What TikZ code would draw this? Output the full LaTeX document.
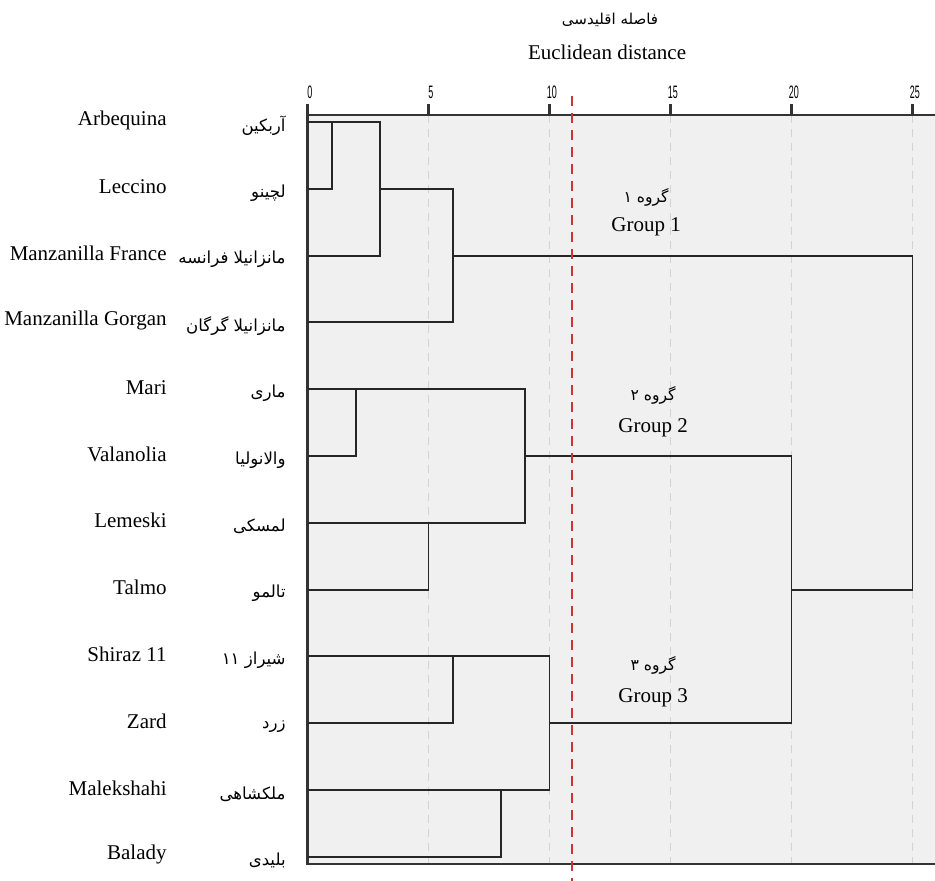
\documentclass[tikz,border=0pt]{standalone}
\usepackage{fontspec}
\setmainfont{Liberation Serif}
\newfontfamily\farsifont[Script=Arabic]{DejaVu Sans}
\newfontfamily\axisfont{Liberation Sans}
\TeXXeTstate=1
\usepackage{tikz}
\newcommand{\fa}[1]{{\farsifont\beginR #1\endR}}
\definecolor{cutred}{RGB}{205,52,52}
\tikzset{
  enlabel/.style={anchor=east, inner sep=0pt, font=\fontsize{10.5}{12}\selectfont},
  falabel/.style={anchor=east, inner sep=0pt, font=\fontsize{8.3}{10}\selectfont},
  grouplabel/.style={inner sep=0pt, font=\fontsize{10.5}{12}\selectfont},
  ticklabel/.style={inner sep=0pt, font=\axisfont\fontsize{9}{10}\selectfont},
  tree/.style={color=black!85, line width=0.95pt},
  axisline/.style={color=black!80, line width=1.2pt},
  gridline/.style={color=gray!35, line width=0.5pt, dash pattern=on 4pt off 3pt},
  cutline/.style={color=cutred, line width=1.4pt, dash pattern=on 5pt off 3.5pt}
}

\begin{document}
\begin{tikzpicture}[x=12.1pt,y=-33.4pt]
               \useasboundingbox (-12.707,-1.826) rectangle (25.93,11.362);
               \fill[gray!12] (0,-0.105) rectangle (25.93,11.108);
               \foreach \t in {5,10,...,25}
                  \draw[gridline] (\t,-0.105) -- (\t,11.108);
               \foreach \t in {0,5,...,25}{
                  \draw[axisline] (\t,-0.105) -- (\t,-0.27);
                  \node[ticklabel] (t\t) at (\t+0.1,-0.449) {\scalebox{0.5}[1]{\t}};
               }
               \draw[axisline] (0,-0.105) -- (25.93,-0.105);
               \draw[axisline] (0,-0.105) -- (0,11.108) -- (25.93,11.108);
               \node[grouplabel] (titlefa) at (12.5,-1.527) {\fontsize{7.5}{9}\selectfont\fa{فاصله اقلیدسی}};
               \node[grouplabel] (titleen) at (12.38,-1.048) {Euclidean distance};
               \foreach \i/\en/\fn in {0/Arbequina/آربکین, 1/Leccino/لچینو,
                     2/Manzanilla France/مانزانیلا فرانسه, 3/Manzanilla Gorgan/مانزانیلا گرگان,
                     4/Mari/ماری, 5/Valanolia/والانولیا, 6/Lemeski/لمسکی, 7/Talmo/تالمو,
                     8/Shiraz 11/شیراز ۱۱, 9/Zard/زرد, 10/Malekshahi/ملکشاهی, 11/Balady/بلیدی}{
                  \node[enlabel] (en\i) at (-5.806,\i-0.03) {\en};
                  \node[falabel] (fa\i) at (-0.888,\i+0.06) {\fa{\fn}};
                  \coordinate (a\i) at (0,\i);
               }
               \coordinate (j1) at (1,1);   \coordinate (o1) at (1,0);
               \coordinate (j2) at (3,2);   \coordinate (o2) at (3,1);
               \coordinate (j3) at (6,3);   \coordinate (o3) at (6,2);
               \coordinate (j4) at (2,5);   \coordinate (o4) at (2,4);
               \coordinate (j5) at (5,7);   \coordinate (o5) at (5,6);
               \coordinate (j6) at (9,6);   \coordinate (o6) at (9,5);
               \coordinate (j7) at (6,9);   \coordinate (o7) at (6,8);
               \coordinate (j8) at (8,11);  \coordinate (o8) at (8,10);
               \coordinate (j9) at (10,10); \coordinate (o9) at (10,9);
               \coordinate (j10) at (20,9); \coordinate (o10) at (20,7);
               \coordinate (j11) at (25,7);
               \draw[tree] (a0) -| (j1) -- (a1);
               \draw[tree] (o1) -| (j2) -- (a2);
               \draw[tree] (o2) -| (j3) -- (a3);
               \draw[tree] (a4) -| (j4) -- (a5);
               \draw[tree] (a6) -| (j5) -- (a7);
               \draw[tree] (o4) -| (j6) -- (o5);
               \draw[tree] (a8) -| (j7) -- (a9);
               \draw[tree] (a10) -| (j8) -- (a11);
               \draw[tree] (o7) -| (j9) -- (o8);
               \draw[tree] (o6) -| (j10) -- (o9);
               \draw[tree] (o3) -| (j11) -- (o10);
               \node[grouplabel] (gfa1) at (13.99,1.123) {\fontsize{7.8}{9}\selectfont\fa{گروه ۱}};
               \node[grouplabel] (gen1) at (13.99,1.572) {Group 1};
               \node[grouplabel] (gfa2) at (14.28,4.087) {\fontsize{7.8}{9}\selectfont\fa{گروه ۲}};
               \node[grouplabel] (gen2) at (14.28,4.58) {Group 2};
               \node[grouplabel] (gfa3) at (14.28,8.129) {\fontsize{7.8}{9}\selectfont\fa{گروه ۳}};
               \node[grouplabel] (gen3) at (14.28,8.623) {Group 3};
               \draw[cutline] (10.93,-0.389) -- (10.93,11.362);
\end{tikzpicture}
\end{document}
